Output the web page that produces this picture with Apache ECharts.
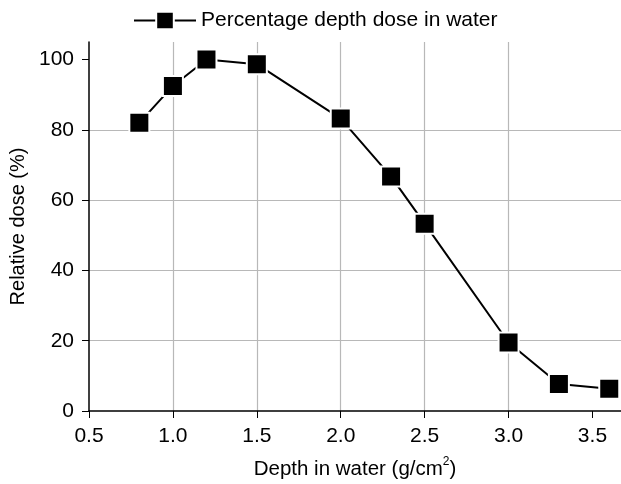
<!DOCTYPE html>
<html>
<head>
<meta charset="utf-8">
<script src="https://cdn.jsdelivr.net/npm/echarts@6/dist/echarts.min.js"></script>
<style>
  html, body { margin: 0; padding: 0; background: #fff; }
  #chart { width: 621px; height: 484px; }
</style>
</head>
<body>
<div id="chart"></div>
<script>
// depth (g/cm2) and relative dose (%)
const depth = [0.8, 1.0, 1.2, 1.5, 2.0, 2.3, 2.5, 3.0, 3.3, 3.6];
const dose = [82, 92.5, 100, 98.7, 83.2, 66.7, 53.3, 19.5, 7.7, 6.3];
const xTicks = [0.5, 1.0, 1.5, 2.0, 2.5, 3.0, 3.5];
const yTicks = [0, 20, 40, 60, 80, 100];

const myChart = echarts.init(document.getElementById('chart'));
const font = 'Liberation Sans, Arial, sans-serif';

myChart.setOption({
  animation: false,
  legend: {
    top: 5,
    left: 128,
    itemWidth: 62,
    itemHeight: 22,
    itemGap: 6,
    textStyle: { fontFamily: font, fontSize: 21, color: '#000' },
    data: ['Percentage depth dose in water']
  },
  grid: { left: 89, right: 0, top: 42, bottom: 73, outerBoundsMode: 'none', containLabel: false },
  xAxis: {
    type: 'value',
    min: 0.5,
    max: 3.67,
    name: '{a|Depth in water (g/cm}{s|2}{a|)}',
    nameLocation: 'middle',
    nameGap: 45,
    nameTextStyle: {
      rich: {
        a: { fontFamily: font, fontSize: 20.5, color: '#000' },
        s: { fontFamily: font, fontSize: 12, color: '#000', verticalAlign: 'top', padding: [0, 0, 14, 0] }
      }
    },
    axisLine: { show: true, lineStyle: { color: '#000', width: 1.5 } },
    axisTick: { show: true, length: 7, customValues: xTicks, lineStyle: { color: '#000' } },
    axisLabel: {
      customValues: xTicks,
      fontFamily: font, fontSize: 21, color: '#000', margin: 15,
      formatter: v => v.toFixed(1)
    },
    splitLine: { show: true, showMinLine: false, showMaxLine: false, lineStyle: { color: '#b8b8b8', width: 1.2 } }
  },
  yAxis: {
    type: 'value',
    min: 0,
    max: 105,
    name: 'Relative dose (%)',
    nameLocation: 'middle',
    nameGap: 61,
    nameTextStyle: { fontFamily: font, fontSize: 20, color: '#000' },
    axisLine: { show: true, lineStyle: { color: '#000', width: 1.5 } },
    axisTick: { show: true, length: 7, customValues: yTicks, lineStyle: { color: '#000' } },
    axisLabel: { customValues: yTicks, fontFamily: font, fontSize: 21, color: '#000', margin: 15 },
    splitLine: { show: true, showMinLine: false, showMaxLine: false, lineStyle: { color: '#b8b8b8', width: 1.2 } }
  },
  series: [{
    name: 'Percentage depth dose in water',
    type: 'line',
    data: depth.map((d, i) => [d, dose[i]]),
    symbol: 'rect',
    symbolSize: 20,
    itemStyle: { color: '#000', borderColor: '#fff', borderWidth: 2 },
    lineStyle: { color: '#000', width: 2 }
  }]
});
</script>
</body>
</html>
